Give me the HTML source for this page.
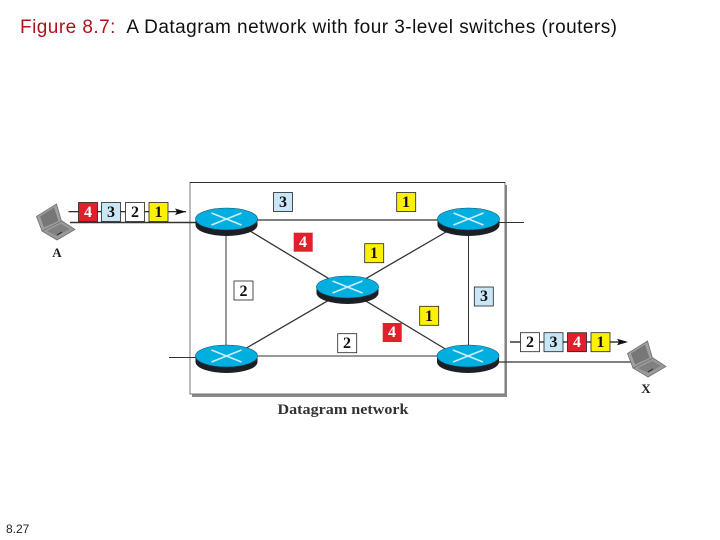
<!DOCTYPE html>
<html><head><meta charset="utf-8"><style>
html,body{margin:0;padding:0;background:#fff;width:720px;height:540px;overflow:hidden}
svg{display:block}
.t{font-family:"Liberation Sans",sans-serif}
.s{font-family:"Liberation Serif",serif;font-weight:bold}
.n{font-family:"Liberation Serif",serif;font-weight:bold;font-size:16px;text-anchor:middle}
</style></head><body>
<svg width="720" height="540" viewBox="0 0 720 540" xmlns="http://www.w3.org/2000/svg">
<defs>
<g id="r">
<ellipse cx="0" cy="6" rx="31" ry="11" fill="#1c2026"/>
<rect x="-31" y="0" width="62" height="6" fill="#1c2026"/>
<ellipse cx="0" cy="0" rx="31" ry="11" fill="#00aee0" stroke="#10506a" stroke-width=".6"/>
<path d="M-15-6L15 6M-15 6L15-6" stroke="#cdeef8" stroke-width="1.6" fill="none"/>
</g>
<g id="l">
<path d="M36.500 216.500L56.500 204L62 223L42 231Z" fill="#a0a0a0" stroke="#707070" stroke-width=".8"/>
<path d="M40 216.500L54 207.500L58.500 221L44 227.500Z" fill="#777"/>
<path d="M42 231L62 221L75 229.500L57 240Z" fill="#9a9a9a" stroke="#707070" stroke-width=".8"/>
<path d="M47 231L61 224L70 229L57 236Z" fill="#808080"/>
<path d="M57 235L62 232" stroke="#333" stroke-width="1.200"/>
</g>
</defs>
<text class="t" x="20" y="33" font-size="19" fill="#111" xml:space="preserve" textLength="597" lengthAdjust="spacing"><tspan fill="#b2121e">Figure 8.7:</tspan>  A Datagram network with four 3-level switches (routers)</text>
<text class="t" x="6" y="533" font-size="12" fill="#222">8.27</text>

<rect x="192" y="185" width="315" height="212" fill="#8a8a8a"/>
<rect x="190" y="182.500" width="315" height="211.500" fill="#fff" stroke="#777" stroke-width="1"/>
<line x1="190" y1="182.500" x2="505" y2="182.500" stroke="#333" stroke-width="1"/>

<g stroke="#333" fill="none">
<path d="M70 222.500H200" stroke-width="1.400"/>
<path d="M250 220H440" stroke-width="1.300"/>
<path d="M495 222.500H524" stroke-width="1"/>
<path d="M169 357.500H200" stroke-width="1"/>
<path d="M250 356H445" stroke-width="1"/>
<path d="M495 362H632" stroke-width="1.200"/>
<path d="M226 235V348" stroke-width="1"/>
<path d="M468.500 235V348" stroke-width="1"/>
<path d="M250 231L447 350" stroke-width="1.300"/>
<path d="M446 232L243 350" stroke-width="1.300"/>
<path d="M68.500 211.700H186" stroke="#111" stroke-width="1.200"/>
<path d="M510 342H626" stroke="#111" stroke-width="1.200"/>
</g>
<path d="M186 211.700L175 208.500L177 211.700L175 215Z" fill="#111"/>
<path d="M628 342L617 338.800L619 342L617 345.200Z" fill="#111"/>

<use href="#r" x="226.500" y="219"/>
<use href="#r" x="468.500" y="219"/>
<use href="#r" x="347.500" y="287"/>
<use href="#r" x="226.500" y="356"/>
<use href="#r" x="468" y="356"/>

<use href="#l"/>
<use href="#l" x="591" y="137"/>

<g stroke="#222" stroke-width=".8">
<rect x="78.500" y="202.500" width="19" height="19" fill="#e1202c"/>
<rect x="101.500" y="202.500" width="19" height="19" fill="#c8e6f5"/>
<rect x="125.500" y="202.500" width="19" height="19" fill="#fff"/>
<rect x="149" y="202.500" width="19" height="19" fill="#fdf000"/>
<rect x="273.500" y="192.500" width="19" height="19" fill="#c8e6f5"/>
<rect x="396.700" y="192.500" width="19" height="19" fill="#fdf000"/>
<rect x="293.700" y="232.700" width="19" height="19" fill="#e1202c" stroke="none"/>
<rect x="364.700" y="243.700" width="19" height="19" fill="#fdf000"/>
<rect x="474.300" y="287" width="19" height="19" fill="#c8e6f5"/>
<rect x="419.700" y="306.300" width="19" height="19" fill="#fdf000"/>
<rect x="234" y="281" width="19" height="19" fill="#fff"/>
<rect x="337.700" y="333.700" width="19" height="19" fill="#fff"/>
<rect x="382.700" y="323" width="19" height="19" fill="#e1202c" stroke="none"/>
<rect x="520.500" y="332.700" width="19" height="19" fill="#fff"/>
<rect x="544" y="332.700" width="19" height="19" fill="#c8e6f5"/>
<rect x="567.500" y="332.700" width="19" height="19" fill="#e1202c"/>
<rect x="591" y="332.700" width="19" height="19" fill="#fdf000"/>
</g>
<g class="n" fill="#111">
<text x="88" y="217" fill="#fff">4</text><text x="111" y="217">3</text><text x="135" y="217">2</text><text x="158.500" y="217">1</text>
<text x="283" y="207">3</text><text x="406" y="207">1</text>
<text x="303" y="247" fill="#fff">4</text><text x="374" y="258">1</text>
<text x="484" y="301">3</text><text x="429" y="321">1</text>
<text x="243.500" y="296">2</text><text x="347" y="348">2</text>
<text x="392" y="337" fill="#fff">4</text>
<text x="530" y="347">2</text><text x="553.500" y="347">3</text><text x="577" y="347" fill="#fff">4</text><text x="600.500" y="347">1</text>
</g>
<text class="s" x="57" y="257" font-size="13" text-anchor="middle" fill="#222">A</text>
<text class="s" x="646" y="393" font-size="13" text-anchor="middle" fill="#222">X</text>
<text class="s" x="343" y="414" font-size="15" text-anchor="middle" fill="#333" textLength="131" lengthAdjust="spacingAndGlyphs">Datagram network</text>
</svg>
</body></html>
